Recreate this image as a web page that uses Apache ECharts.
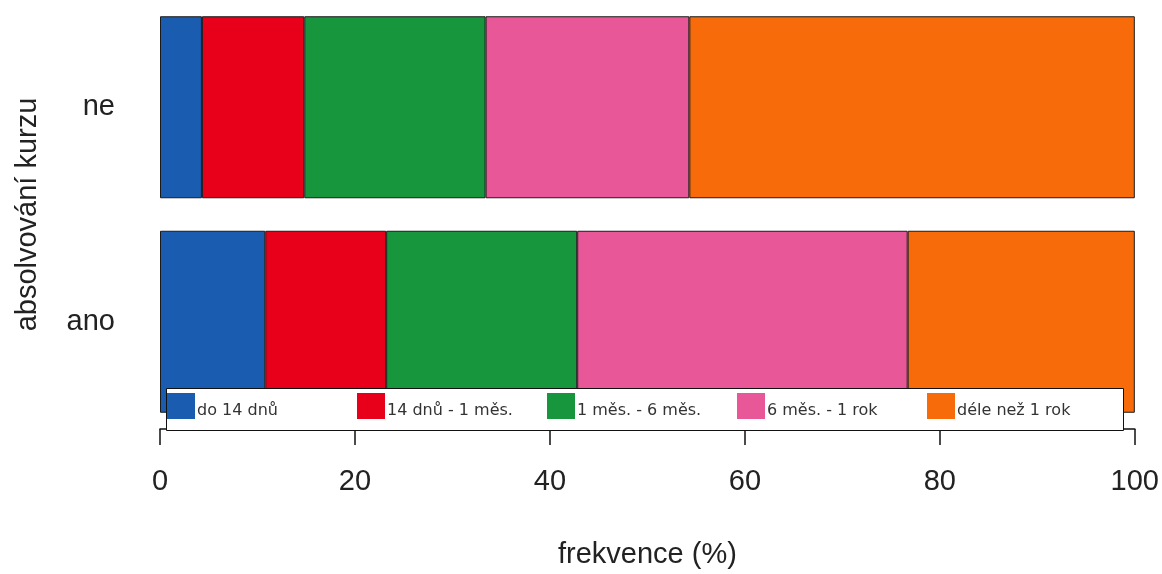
<!DOCTYPE html>
<html>
<head>
<meta charset="utf-8">
<script src="https://cdn.jsdelivr.net/npm/echarts@6/dist/echarts.min.js"></script>
<style>
html, body { margin: 0; padding: 0; background: #fff; }
#chart { width: 1162px; height: 574px; }
</style>
</head>
<body>
<div id="chart"></div>
<script>
const categories = ['ne', 'ano'];
const seriesNames = ['do 14 dnů', '14 dnů - 1 měs.', '1 měs. - 6 měs.', '6 měs. - 1 rok', 'déle než 1 rok'];
const valuesNe  = [4.3, 10.5, 18.6, 20.9, 45.7];
const valuesAno = [10.8, 12.4, 19.6, 33.9, 23.3];
const xTicks = [0, 20, 40, 60, 80, 100];
const colors = ['#1A5CB0', '#E8001A', '#18963E', '#E85898', '#F86B0B'];

const axisFont = 'Liberation Sans, Arial, sans-serif';

const series = seriesNames.map((name, i) => ({
  name: name,
  type: 'bar',
  stack: 'total',
  barWidth: 182,
  data: [valuesNe[i], valuesAno[i]],
  itemStyle: { color: colors[i], borderColor: '#1a1a1a', borderWidth: 1 },
  emphasis: { disabled: true }
}));

// one legend per entry so that entries sit at equal spacing, as in the original
const legendStep = 190;
const legendFont = { fontFamily: 'DejaVu Sans, sans-serif', fontSize: 16, color: '#333' };
const legends = seriesNames.map((name, i) => ({
  show: true,
  data: [name],
  left: 167 + legendStep * i,
  top: 393,
  orient: 'horizontal',
  icon: 'rect',
  itemWidth: 28,
  itemHeight: 26,
  padding: 0,
  selectedMode: false,
  itemStyle: { borderWidth: 0 },
  formatter: n => '{a|' + n + '}',
  textStyle: Object.assign({}, legendFont, {
    rich: { a: Object.assign({}, legendFont, { padding: [10, 0, 0, -3] }) }
  }),
  z: 10
}));

const chart = echarts.init(document.getElementById('chart'), null, { renderer: 'canvas' });
chart.setOption({
  animation: false,
  backgroundColor: '#ffffff',
  grid: { left: 160, right: 26, top: -3.75, bottom: 142.25, containLabel: false },
  xAxis: {
    type: 'value',
    min: 0, max: 100, interval: 20,
    name: 'frekvence (%)',
    nameLocation: 'middle',
    nameGap: 111,
    nameTextStyle: { fontFamily: axisFont, fontSize: 29, color: '#222' },
    axisLine: { show: true, lineStyle: { color: '#111', width: 1.5 } },
    axisTick: { show: true, length: 16, lineStyle: { color: '#111', width: 1.5 } },
    axisLabel: {
      margin: 38, fontFamily: axisFont, fontSize: 29, color: '#222',
      formatter: v => xTicks.includes(v) ? String(v) : ''
    },
    splitLine: { show: false }
  },
  yAxis: {
    type: 'category',
    data: categories,
    inverse: true,
    name: 'absolvování kurzu',
    nameLocation: 'middle',
    nameGap: 118,
    nameRotate: 90,
    nameTextStyle: { fontFamily: axisFont, fontSize: 29, color: '#222' },
    axisLine: { show: false },
    axisTick: { show: false },
    axisLabel: { margin: 45, fontFamily: axisFont, fontSize: 29, color: '#222' },
    splitLine: { show: false }
  },
  graphic: [{
    type: 'rect',
    left: 166, top: 388,
    shape: { width: 957, height: 42 },
    style: { fill: '#ffffff', stroke: '#111', lineWidth: 1 },
    z: 5,
    silent: true
  }],
  legend: legends,
  series: series
});
</script>
</body>
</html>
